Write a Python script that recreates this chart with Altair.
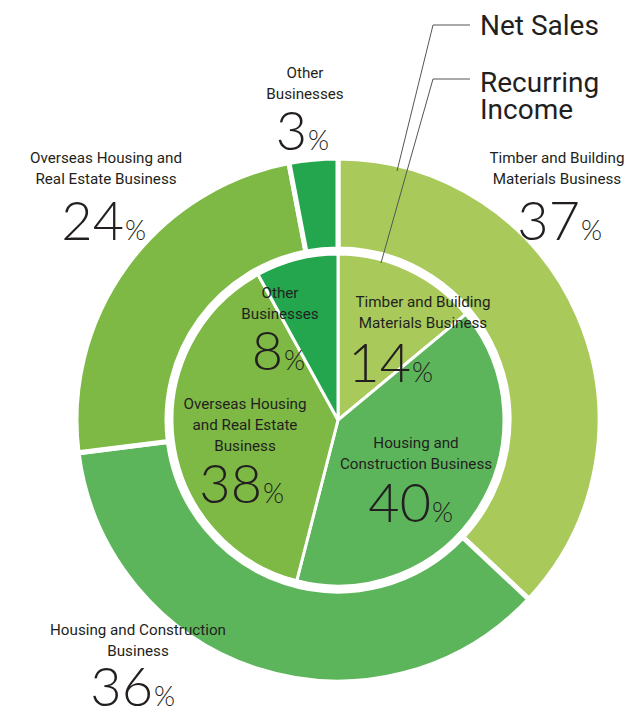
import altair as alt
import pandas as pd

# ---------------- data ----------------
segments = [
    "Timber and Building Materials Business",
    "Housing and Construction Business",
    "Overseas Housing and Real Estate Business",
    "Other Businesses",
]
net_sales = [37, 36, 24, 3]
recurring_income = [14, 40, 38, 8]
colors = ["#a9ca5b", "#5db55b", "#7db944", "#23a64d"]

outer_label_lines = [
    ["Timber and Building", "Materials Business"],
    ["Housing and Construction", "Business"],
    ["Overseas Housing and", "Real Estate Business"],
    ["Other", "Businesses"],
]
inner_label_lines = [
    ["Timber and Building", "Materials Business"],
    ["Housing and", "Construction Business"],
    ["Overseas Housing", "and Real Estate", "Business"],
    ["Other", "Businesses"],
]
series_titles = [["Net Sales"], ["Recurring", "Income"]]

# ---------------- layout (page pixels) ----------------
OFF = 8
CX, CY = 338 - OFF, 420 - OFF
# name centre x, first-line centre y, split x (number | %), number baseline
outer_pos = [(557, 158, 580, 240), (138, 630, 153, 706), (106, 158, 124, 240), (305, 73, 307, 150)]
inner_pos = [(423, 302, 411, 382), (416, 443, 431, 522), (245, 404, 262, 503), (280, 293, 283, 370)]
LINE_GAP = 21
title_pos = [(480, 35), (480, 92)]
TITLE_GAP = 27
leader_lines = [
    [(470, 25, 433, 25), (433, 25, 397, 171)],
    [(470, 79, 433, 79), (433, 79, 381, 263)],
]

NARROW = "Roboto, sans-serif"
LIGHT = "Lato, Open Sans, sans-serif"
TXT = "#231f20"

# ---------------- tables ----------------
outer_df = pd.DataFrame({"segment": segments, "value": net_sales, "k": range(4)})
inner_df = pd.DataFrame({"segment": segments, "value": recurring_income, "k": range(4)})

name_rows, num_rows, pct_rows = [], [], []
for lines_set, pos_set, vals in [(outer_label_lines, outer_pos, net_sales),
                                 (inner_label_lines, inner_pos, recurring_income)]:
    for lines, (nx, ny, sx, by), v in zip(lines_set, pos_set, vals):
        for i, t in enumerate(lines):
            name_rows.append({"t": t, "x": nx - OFF, "y": ny + i * LINE_GAP - OFF})
        num_rows.append({"t": str(v), "x": sx - OFF, "y": by - OFF})
        pct_rows.append({"t": "%", "x": sx + 1 - OFF, "y": by - OFF})

title_rows = []
for lines, (tx, ty) in zip(series_titles, title_pos):
    for i, t in enumerate(lines):
        title_rows.append({"t": t, "x": tx - OFF, "y": ty + i * TITLE_GAP - OFF})

rule_rows = []
for segs in leader_lines:
    for (x1, y1, x2, y2) in segs:
        rule_rows.append({"x": x1 - OFF, "y": y1 - OFF, "x2": x2 - OFF, "y2": y2 - OFF})

color_enc = alt.Color("segment:N", scale=alt.Scale(domain=segments, range=colors), legend=None)

outer = alt.Chart(outer_df).mark_arc(outerRadius=262, innerRadius=171, stroke="white", strokeWidth=5).encode(
    theta=alt.Theta("value:Q", stack=True),
    color=color_enc,
    order=alt.Order("k:Q"),
    x=alt.value(CX),
    y=alt.value(CY),
)
inner = alt.Chart(inner_df).mark_arc(outerRadius=166, innerRadius=0, stroke="white", strokeWidth=3).encode(
    theta=alt.Theta("value:Q", stack=True),
    color=color_enc,
    order=alt.Order("k:Q"),
    x=alt.value(CX),
    y=alt.value(CY),
)

xs = alt.X("x:Q", scale=None, axis=None)
ys = alt.Y("y:Q", scale=None, axis=None)

names = alt.Chart(pd.DataFrame(name_rows)).mark_text(
    font=NARROW, fontSize=15.2, color=TXT, align="center", baseline="middle"
).encode(x=xs, y=ys, text="t:N")

nums = alt.Chart(pd.DataFrame(num_rows)).mark_text(
    font=LIGHT, fontSize=54, fontWeight=300, color=TXT, align="right", baseline="alphabetic"
).encode(x=xs, y=ys, text="t:N")

pcts = alt.Chart(pd.DataFrame(pct_rows)).mark_text(
    font=LIGHT, fontSize=27, fontWeight=300, color=TXT, align="left", baseline="alphabetic"
).encode(x=xs, y=ys, text="t:N")

titles = alt.Chart(pd.DataFrame(title_rows)).mark_text(
    font=NARROW, fontSize=28, color=TXT, align="left", baseline="alphabetic"
).encode(x=xs, y=ys, text="t:N")

rules = alt.Chart(pd.DataFrame(rule_rows)).mark_rule(color="#555555", strokeWidth=1).encode(
    x=xs, y=ys, x2="x2:Q", y2="y2:Q"
)

chart = alt.layer(outer, inner, rules, names, nums, pcts, titles).resolve_scale(
    theta="independent"
).properties(
    width=620, height=702, autosize=alt.AutoSizeParams(type="none"), padding=0
).configure_view(stroke=None)

chart.save("out.html", embed_options={"renderer": "svg", "actions": False})
